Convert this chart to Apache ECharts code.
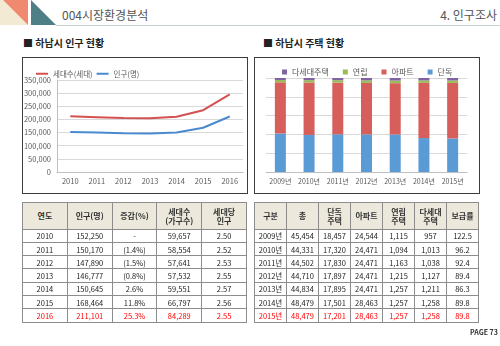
<!DOCTYPE html>
<html><head><meta charset="utf-8">
<script src="https://cdn.jsdelivr.net/npm/echarts@6/dist/echarts.min.js"></script>
<style>
html,body{margin:0;padding:0}
body{width:500px;height:346px;overflow:hidden;background:#fff;font-family:"Noto Sans CJK KR","Noto Sans",sans-serif;position:relative}
.abs{position:absolute;white-space:nowrap}
.hdr{font-size:12px;color:#555;line-height:14px;font-weight:normal}
.sec{font-size:10px;font-weight:bold;color:#222;line-height:12px}
.box{position:absolute;border:1.5px solid #3c3c3c;box-sizing:border-box}
#chart{position:absolute;left:0;top:0;width:500px;height:346px}
table{border-collapse:collapse;table-layout:fixed;position:absolute;font-size:7.5px;color:#222;border:1px solid #555}
td,th{border:1px solid #8c8c8c;text-align:center;padding:0;overflow:hidden;white-space:nowrap}
th{background:#ece9dc;font-weight:bold;color:#333;line-height:9px;font-size:8px}
tr.h{height:26.6px}
tr.r{height:13.3px}
.red td{color:#ff0000}
.pg{font-size:7px;font-weight:bold;color:#333}
</style>
</head><body>
<svg class="abs" style="left:0;top:0" width="500" height="30">
  <polygon points="0,0 3,0 28,25 0,25" fill="#f2ead2"/>
  <polygon points="3,0 28,0 28,25" fill="#f08a6e"/>
  <polygon points="31,0 31,25 56,25" fill="#4e7f86"/>
  <line x1="56" y1="25.5" x2="500" y2="25.5" stroke="#c9d2d2" stroke-width="1"/>
</svg>
<div class="abs hdr" style="left:62px;top:8px">004시장환경분석</div>
<div class="abs hdr" style="right:3px;top:8px">4. 인구조사</div>
<div class="abs sec" style="left:23px;top:37px">■ 하남시 인구 현황</div>
<div class="abs sec" style="left:263px;top:37px">■ 하남시 주택 현황</div>
<div class="box" style="left:22px;top:57px;width:226px;height:137px"></div>
<div class="box" style="left:254px;top:57px;width:226px;height:137px"></div>
<div id="chart"></div>
<table id="t1" style="left:22px;top:202px;width:225px"></table>
<table id="t2" style="left:254px;top:202px;width:225px"></table>
<div class="abs pg" style="left:470px;top:327px">PAGE 73</div>
<script>
// ---- population data ----
const years = ['2010','2011','2012','2013','2014','2015','2016'];
const population = [152250,150170,147890,146777,150645,168464,211101];
const popChange = ['-','(1.4%)','(1.5%)','(0.8%)','2.6%','11.8%','25.3%'];
const households = [59657,58554,57641,57532,59551,66797,84289];
const perHousehold = ['2.50','2.52','2.53','2.55','2.57','2.56','2.55'];
const popYAxisMax = 350000;
const popYAxisStep = 50000;

// ---- housing data ----
const housingYears = ['2009년','2010년','2011년','2012년','2013년','2014년','2015년'];
const housingTotal = [45454,44331,44502,44710,44834,48479,48479];
const detached = [18457,17320,17830,17897,17895,17501,17201];
const apartment = [24544,24471,24471,24471,24471,28463,28463];
const rowHouse = [1115,1094,1163,1215,1257,1257,1257];
const multiFamily = [957,1013,1038,1127,1211,1258,1258];
const supplyRate = ['122.5','96.2','92.4','89.4','86.3','89.8','89.8'];

const popHeaders = ['연도','인구(명)','증감(%)','세대수<br>(가구수)','세대당<br>인구'];
const housingHeaders = ['구분','총','단독<br>주택','아파트','연립<br>주택','다세대<br>주택','보급률'];

const fmt = v => v.toLocaleString('en-US');

// tables
function buildTable(id, headers, rows, redLast){
  let h = '<tr class="h">' + headers.map(x=>'<th>'+x+'</th>').join('') + '</tr>';
  rows.forEach((r,i)=>{
    h += '<tr class="r'+(redLast && i===rows.length-1?' red':'')+'">' + r.map(x=>'<td>'+x+'</td>').join('') + '</tr>';
  });
  document.getElementById(id).innerHTML = h;
}
buildTable('t1', popHeaders, years.map((y,i)=>[y, fmt(population[i]), popChange[i], fmt(households[i]), perHousehold[i]]), true);
buildTable('t2', housingHeaders, housingYears.map((y,i)=>[y, fmt(housingTotal[i]), fmt(detached[i]), fmt(apartment[i]), fmt(rowHouse[i]), fmt(multiFamily[i]), supplyRate[i]]), true);

// 100% stacked shares
const sums = housingYears.map((_,i)=>detached[i]+apartment[i]+rowHouse[i]+multiFamily[i]);
const share = arr => arr.map((v,i)=>v/sums[i]*100);

const chart = echarts.init(document.getElementById('chart'), null, {renderer:'canvas'});
const axisText = {fontSize:7.5, color:'#595959', fontFamily:'"Noto Sans CJK KR", sans-serif'};
chart.setOption({
  animation:false,
  textStyle:{fontFamily:'"Noto Sans CJK KR", sans-serif'},
  legend:[
    {data:['세대수(세대)','인구(명)'], left:31, top:65, icon:'rect', itemWidth:12, itemHeight:2, itemGap:4,
     textStyle:Object.assign({},axisText,{fontSize:7.5})},
    {data:['다세대주택','연립','아파트','단독'], left:277, top:63, icon:'rect', itemWidth:5, itemHeight:5, itemGap:14,
     textStyle:Object.assign({},axisText,{fontSize:8})}
  ],
  grid:[
    {left:57, top:80, width:186, height:92},
    {left:266, top:78, width:201, height:94}
  ],
  xAxis:[
    {type:'category', gridIndex:0, data:years, axisLine:{lineStyle:{color:'#bfbfbf'}}, axisTick:{lineStyle:{color:'#bfbfbf'}},
     axisLabel:Object.assign({margin:5, interval:0},axisText)},
    {type:'category', gridIndex:1, data:housingYears, axisLine:{lineStyle:{color:'#bfbfbf'}}, axisTick:{lineStyle:{color:'#bfbfbf'}},
     axisLabel:Object.assign({margin:6, interval:0},axisText,{fontSize:7})}
  ],
  yAxis:[
    {type:'value', gridIndex:0, min:0, max:popYAxisMax, interval:popYAxisStep,
     axisLine:{show:true, lineStyle:{color:'#bfbfbf'}}, axisTick:{show:false},
     splitLine:{lineStyle:{color:'#d9d9d9'}},
     axisLabel:Object.assign({margin:6, formatter:v=>fmt(v)},axisText)},
    {type:'value', gridIndex:1, min:0, max:100, interval:20,
     axisLine:{show:false}, axisTick:{show:false}, axisLabel:{show:false},
     splitLine:{lineStyle:{color:'#d9d9d9'}}}
  ],
  series:[
    {name:'인구(명)', type:'line', xAxisIndex:0, yAxisIndex:0, stack:'pop', data:population, color:'#4a8ad0',
     showSymbol:false, lineStyle:{width:2}},
    {name:'세대수(세대)', type:'line', xAxisIndex:0, yAxisIndex:0, stack:'pop', data:households, color:'#d55050',
     showSymbol:false, lineStyle:{width:2}},
    {name:'단독', type:'bar', xAxisIndex:1, yAxisIndex:1, stack:'h', barWidth:11, data:share(detached), color:'#5b9bd5'},
    {name:'아파트', type:'bar', xAxisIndex:1, yAxisIndex:1, stack:'h', barWidth:11, data:share(apartment), color:'#d65f5c'},
    {name:'연립', type:'bar', xAxisIndex:1, yAxisIndex:1, stack:'h', barWidth:11, data:share(rowHouse), color:'#9bbb59'},
    {name:'다세대주택', type:'bar', xAxisIndex:1, yAxisIndex:1, stack:'h', barWidth:11, data:share(multiFamily), color:'#8064a2'}
  ]
});
</script>
</body></html>
